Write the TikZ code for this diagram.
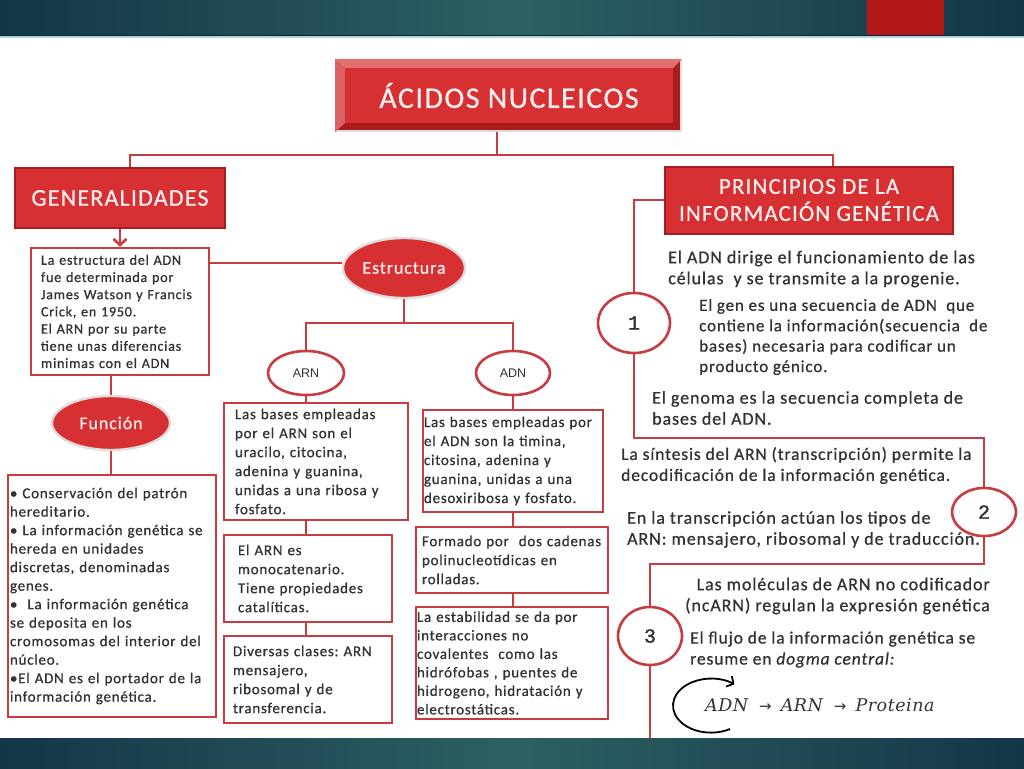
\documentclass[tikz,border=0pt]{standalone}
\usepackage{fontspec}
\setmainfont{Carlito}[LetterSpace=5,RawFeature={embolden=0.7}]
\newfontfamily\monofont{Liberation Mono}[RawFeature={embolden=1.5}]
\newfontfamily\arialfont{Liberation Sans}
\newfontfamily\serifmath{DejaVu Serif}[LetterSpace=3]
\newfontfamily\arrowfont{DejaVu Sans}
\usetikzlibrary{shapes.geometric,arrows.meta}
\definecolor{barteal}{RGB}{44,96,98}
\definecolor{bardark}{RGB}{20,54,72}
\definecolor{barred}{RGB}{178,24,24}
\definecolor{barline}{RGB}{170,214,220}
\definecolor{boxred}{RGB}{214,48,50}
\definecolor{framered}{RGB}{168,28,30}
\definecolor{bevelpink}{RGB}{228,112,112}
\definecolor{edgered}{RGB}{165,30,32}
\definecolor{linered}{RGB}{198,60,64}
\definecolor{ovalrim}{RGB}{226,220,220}
\definecolor{textgray}{RGB}{50,50,50}
\definecolor{headwhite}{RGB}{252,238,238}
\frenchspacing

\begin{document}
\begin{tikzpicture}[x=1pt,y=-1pt,
  hdr/.style={rectangle,fill=boxred,draw=edgered,line width=2pt,text=headwhite,align=center,inner sep=0pt},
  txtbox/.style={rectangle,draw=linered,line width=2.6pt,fill=white,text=textgray,align=left,inner sep=0pt,font=\fontsize{15}{19}\selectfont},
  redoval/.style={ellipse,fill=boxred,draw=ovalrim,line width=2.4pt,text=headwhite,inner sep=0pt,font=\fontsize{18}{20}\selectfont},
  whoval/.style={ellipse,fill=white,draw=linered,line width=2.6pt,inner sep=0pt,text=textgray},
  link/.style={draw=linered,line width=2.6pt},
  note/.style={text=textgray,align=left,inner sep=0pt,font=\fontsize{18}{21}\selectfont}]
  \useasboundingbox (0,0) rectangle (1024,768);
  \fill[white] (0,0) rectangle (1024,768);
  % bars
  \shade[left color=bardark,right color=bardark,middle color=barteal] (0,0) rectangle (1024,36);
  \fill[barred] (867,0) rectangle (944,36);
  \fill[bardark!70!black] (0,35) rectangle (1024,36.5); \fill[barline] (0,36.5) rectangle (1024,38);
  % title
  \node[draw=ovalrim,line width=1.6pt,fill=framered,minimum width=345pt,minimum height=71pt,inner sep=0pt] (frame) at (508.5,95.5) {};
  \node[fill=boxred,minimum width=328pt,minimum height=55pt,inner sep=0pt,text=headwhite,font=\fontsize{30}{32}\selectfont] (title) at (509,95.5) {ÁCIDOS NUCLEICOS};
  \fill[bevelpink] (frame.north west) -- (frame.north east) -- (title.north east) -- (title.north west) -- cycle;
  \fill[bevelpink!85!framered] (frame.north west) -- (title.north west) -- (title.south west) -- (frame.south west) -- cycle;
  % left column
  \node[hdr,minimum width=210pt,minimum height=60pt,font=\fontsize{24}{26}\selectfont] (gen) at (120,198) {GENERALIDADES};
  \node[txtbox,minimum width=178pt,minimum height=127pt,text width=158pt,font=\fontsize{14.2}{17.2}\selectfont] (est) at (120,311.5) {La estructura del ADN\\fue determinada por\\James Watson y Francis\\Crick, en 1950.\\El ARN por su parte\\tiene unas diferencias\\minimas con el ADN};
  \node[redoval,minimum width=118pt,minimum height=54pt] (fun) at (111,423) {Función};
  \node[txtbox,minimum width=208pt,minimum height=242pt,text width=204pt,font=\fontsize{15}{18.5}\selectfont] (funbox) at (112,596) {• Conservación del patrón\\hereditario.\\• La información genética se\\hereda en unidades\\discretas, denominadas\\genes.\\•\ \ La información genética\\se deposita en los\\cromosomas del interior del\\núcleo.\\•El ADN es el portador de la\\información genética.};
  % estructura
  \node[redoval,minimum width=122pt,minimum height=60pt] (estr) at (404,268) {Estructura};
  \node[whoval,minimum width=76pt,minimum height=44pt,font=\arialfont\fontsize{12.5}{14}\selectfont] (arn) at (306,373) {ARN};
  \node[whoval,minimum width=74pt,minimum height=44pt,font=\arialfont\fontsize{12.5}{14}\selectfont] (adn) at (513,373) {ADN};
  \node[txtbox,minimum width=184pt,minimum height=117pt,text width=162pt] (arn1) at (316,461.5) {Las bases empleadas\\por el ARN son el\\uracilo, citocina,\\adenina y guanina,\\unidas a una ribosa y\\fosfato.};
  \node[txtbox,minimum width=168pt,minimum height=87pt,text width=140pt] (arn2) at (308,578.5) {El ARN es\\monocatenario.\\Tiene propiedades\\catalíticas.};
  \node[txtbox,minimum width=168pt,minimum height=87pt,text width=150pt] (arn3) at (308,679.5) {Diversas clases: ARN\\mensajero,\\ribosomal y de\\transferencia.};
  \node[txtbox,minimum width=180pt,minimum height=102pt,text width=178pt] (adn1) at (513,461) {Las bases empleadas por\\el ADN son la timina,\\citosina, adenina y\\guanina, unidas a una\\desoxiribosa y fosfato.};
  \node[txtbox,minimum width=192pt,minimum height=66pt,text width=180pt] (adn2) at (512,560) {Formado por\ \ dos cadenas\\polinucleotídicas en\\rolladas.};
  \node[txtbox,minimum width=192pt,minimum height=112pt,text width=190pt,font=\fontsize{15}{18.5}\selectfont] (adn3) at (512,663) {La estabilidad se da por\\interacciones no\\covalentes\ \ como las\\hidrófobas , puentes de\\hidrogeno, hidratación y\\electrostáticas.};
  % right column
  \node[hdr,minimum width=288pt,minimum height=67pt,font=\fontsize{23}{27}\selectfont] (princ) at (809,200) {PRINCIPIOS DE LA\\INFORMACIÓN GENÉTICA};
  \node[whoval,minimum width=72pt,minimum height=60pt,font=\monofont\fontsize{20}{22}\selectfont] (c1) at (634,323) {1};
  \node[whoval,minimum width=64pt,minimum height=48pt,font=\monofont\fontsize{20}{22}\selectfont] (c2) at (984,512) {2};
  \node[whoval,minimum width=64pt,minimum height=58pt,font=\monofont\fontsize{20}{22}\selectfont] (c3) at (650,636) {3};
  \node[note,anchor=west] (dirige) at (668,269) {El ADN dirige el funcionamiento de las\\células\ \ y se transmite a la progenie.};
  \node[note,anchor=west,font=\fontsize{17}{20.4}\selectfont] (gen1) at (699,337) {El gen es una secuencia de ADN\ \ que\\contiene la información(secuencia\ \ de\\bases) necesaria para codificar un\\producto génico.};
  \node[note,anchor=west] (genoma) at (652,408) {El genoma es la secuencia completa de\\bases del ADN.};
  \node[note,anchor=west,font=\fontsize{17.5}{21}\selectfont] (sintesis) at (621,465.5) {La síntesis del ARN (transcripción) permite la\\decodificación de la información genética.};
  \node[note,anchor=west] (tipos) at (627,529.5) {En la transcripción actúan los tipos de\\ARN: mensajero, ribosomal y de traducción.};
  \node[note,anchor=east,align=right] (ncarn) at (990,596) {Las moléculas de ARN no codificador\\(ncARN) regulan la expresión genética};
  \node[note,anchor=west,font=\fontsize{17.5}{21}\selectfont] (flujo) at (690,649.5) {El flujo de la información genética se\\resume en \textit{dogma central:}};
  \node[note,anchor=west,font=\serifmath\itshape\fontsize{17.5}{20}\selectfont] (dogma) at (705,705) {ADN\hspace{11pt}{\arrowfont\upshape\fontsize{15}{16}\selectfont →}\hspace{9pt}ARN\hspace{11pt}{\arrowfont\upshape\fontsize{15}{16}\selectfont →}\hspace{9pt}Proteina};
  \draw[line width=1.8pt,-{Straight Barb[length=5pt,width=12pt]}] (730,729) arc[start angle=60,end angle=308,x radius=38,y radius=27];
  % connectors
  \coordinate (t0) at (497,155); \coordinate (tl) at (130,155); \coordinate (tr) at (833,155);
  \draw[link] (t0 |- frame.south) -- (t0);
  \draw[link] (tl |- gen.north) -- (tl) -- (tr) -- (tr |- princ.north);
  \draw[link,-{Straight Barb[length=6pt,width=13pt]}] (gen.south) -- (est.north);
  \draw[link] (estr.west |- 0,263) -- (est.east |- 0,263);
  \draw[link] (fun.north |- est.south) -- (fun.north); \draw[link] (fun.south) -- (fun.south |- funbox.north);
  \coordinate (sj) at (0,323);
  \draw[link] (estr.south) -- (estr.south |- sj);
  \draw[link] (arn.north) -- (arn.north |- sj) -- (adn.north |- sj) -- (adn.north);
  \draw[link] (arn.south) -- (arn.south |- arn1.north); \draw[link] (arn.south |- arn1.south) -- (arn.south |- arn2.north); \draw[link] (arn.south |- arn2.south) -- (arn.south |- arn3.north);
  \draw[link] (adn.south) -- (adn.south |- adn1.north); \draw[link] (adn.south |- adn1.south) -- (adn.south |- adn2.north); \draw[link] (adn.south |- adn2.south) -- (adn.south |- adn3.north);
  \coordinate (k1) at (984,438); \coordinate (k2) at (650,564); \coordinate (k3) at (650,738);
  \draw[link] (princ.west) -| (c1.north);
  \draw[link] (c1.south) |- (k1) -- (c2.north);
  \draw[link] (c2.south) |- (k2) -- (c3.north);
  \draw[link] (c3.south) -- (k3);
  \shade[left color=bardark,right color=bardark,middle color=barteal] (0,738) rectangle (1024,768);
\end{tikzpicture}
\end{document}
